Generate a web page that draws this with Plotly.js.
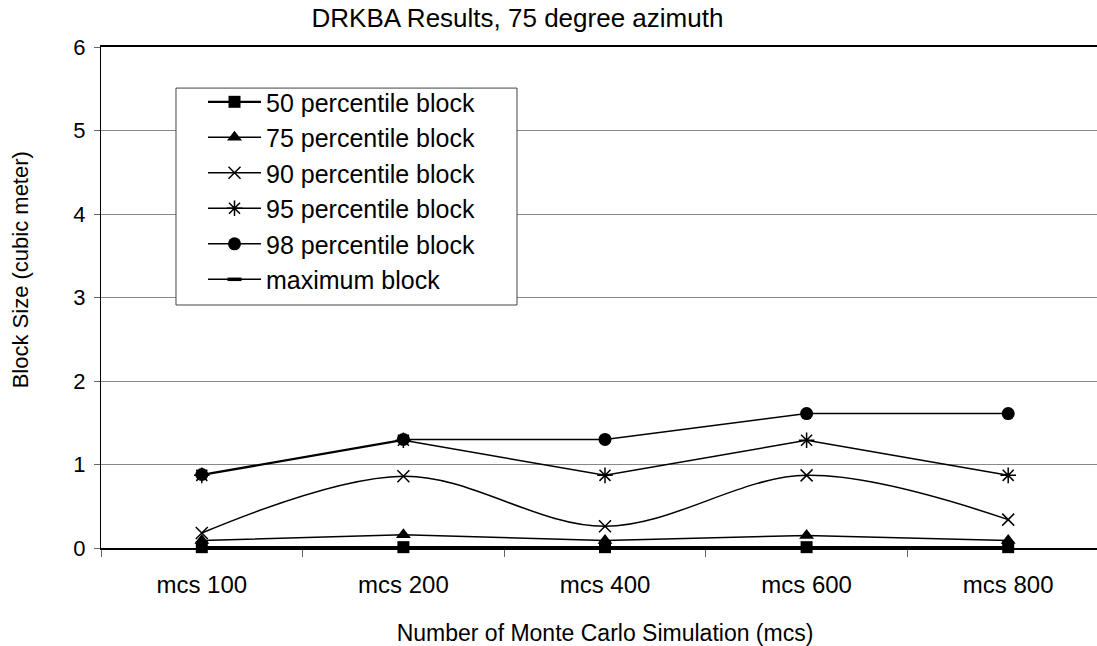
<!DOCTYPE html>
<html><head><meta charset="utf-8">
<script src="https://cdn.plot.ly/plotly-3.0.1.min.js"></script>
<style>html,body{margin:0;padding:0;overflow:hidden;background:#fff;width:1097px;height:646px}</style>
</head><body>
<div id="chart" style="width:1120px;height:646px"></div>
<script>
const categories = ["mcs 100", "mcs 200", "mcs 400", "mcs 600", "mcs 800"];
const p50 = [0.01, 0.01, 0.01, 0.01, 0.01];
const p75 = [0.09, 0.16, 0.09, 0.15, 0.09];
const p90 = [0.18, 0.86, 0.26, 0.87, 0.34];
const p95 = [0.87, 1.29, 0.87, 1.29, 0.87];
const p98 = [0.88, 1.30, 1.30, 1.61, 1.61];
const pMax = [null, null, null, null, null];
const seriesNames = ["50 percentile block", "75 percentile block", "90 percentile block",
  "95 percentile block", "98 percentile block", "maximum block"];
const chartTitle = "DRKBA Results, 75 degree azimuth";
const xTitle = "Number of Monte Carlo Simulation (mcs)";
const yTitle = "Block Size (cubic meter)";

const FONT = "Liberation Sans, Arial, sans-serif";
function tr(name, y, symbol, size, shape, lw, mlw) {
  return {
    type: "scatter", mode: "lines+markers", x: categories, y: y, name: name,
    legendgroup: name,
    line: {color: "#000", width: lw || 1.5, shape: shape || "linear", smoothing: 1},
    marker: {symbol: symbol, size: size, color: "#000", line: {color: "#000", width: mlw || 0}},
    cliponaxis: false
  };
}
const data = [
  tr(seriesNames[0], p50, "square", 12, null, 2.2),
  tr(seriesNames[1], p75, "triangle-up", 13),
  tr(seriesNames[2], p90, "x-thin-open", 12, "spline", 1.5, 1.5),
  tr(seriesNames[3], p95, "asterisk-open", 13, null, 1.5, 1.5),
  tr(seriesNames[4], p98, "circle", 13),
  tr(seriesNames[5], pMax, "line-ew-open", 10, null, 1.5, 3.5)
];
const layout = {
  width: 1120, height: 646,
  margin: {l: 101, r: 11, t: 47, b: 98},
  paper_bgcolor: "#fff", plot_bgcolor: "#fff",
  font: {family: FONT, color: "#000", size: 20},
  title: {text: chartTitle, x: 0.462, xref: "container", xanchor: "center",
    y: 0.972, yref: "container", yanchor: "middle", font: {size: 26, family: FONT}},
  showlegend: true,
  legend: {x: 0.1012, y: 0.936, xanchor: "left", yanchor: "top", bgcolor: "rgba(0,0,0,0)",
    borderwidth: 0, font: {size: 25, family: FONT},
    tracegroupgap: 0, itemwidth: 53},
  shapes: [{type: "rect", xref: "paper", yref: "paper", x0: 0.0744, x1: 0.4127, y0: 0.485, y1: 0.918,
    fillcolor: "#fff", line: {color: "#444", width: 1}, layer: "above"}],
  xaxis: {type: "category", range: [-0.5, 4.5], showgrid: false, zeroline: false,
    showline: true, mirror: true, linecolor: "#000", linewidth: 2,
    ticks: "outside", tickson: "boundaries", ticklen: 7, tickcolor: "#666",
    tickfont: {size: 24}, ticklabelstandoff: 14,
    title: {text: xTitle, font: {size: 23}, standoff: 28}},
  yaxis: {range: [0, 6], dtick: 1, showgrid: true, gridcolor: "#888", gridwidth: 1,
    zeroline: false, showline: true, linecolor: "#000", linewidth: 1,
    ticks: "outside", ticklen: 6, tickcolor: "#666", tickfont: {size: 22}, ticklabelstandoff: 4},
  annotations: [{text: yTitle, xref: "paper", yref: "paper", x: -0.079, y: 0.555,
    xanchor: "center", yanchor: "middle", textangle: -90, showarrow: false,
    font: {size: 22, family: FONT}}]
};
Plotly.newPlot("chart", data, layout, {displayModeBar: false, staticPlot: true});
</script>
</body></html>
